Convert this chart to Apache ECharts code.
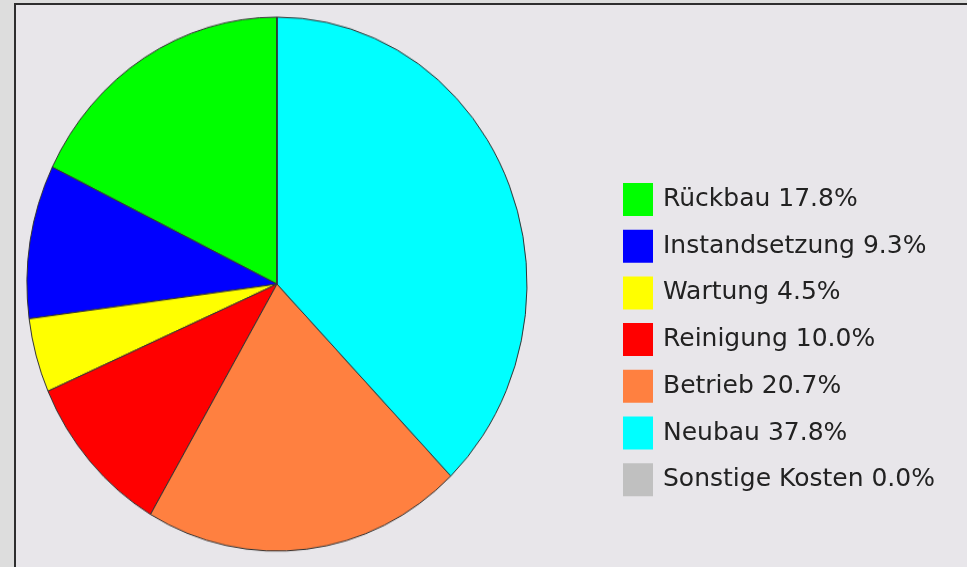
<!DOCTYPE html>
<html>
<head>
<meta charset="utf-8">
<script src="https://cdn.jsdelivr.net/npm/echarts@6/dist/echarts.min.js"></script>
<style>
  html, body { margin: 0; padding: 0; }
  body { width: 967px; height: 567px; background: #dddddd; position: relative; overflow: hidden; }
  #frame { position: absolute; left: 14px; top: 3px; width: 1000px; height: 600px;
           background: #e8e6ea; border: 2px solid #2e2e2e; box-sizing: border-box; }
  #pie { position: absolute; left: 0; top: 0; width: 560px; height: 540px;
         transform: scaleY(1.068); transform-origin: 0 0; }
  #legend { position: absolute; left: 0; top: 0; width: 967px; height: 567px; }
</style>
</head>
<body>
<div id="frame"></div>
<div id="pie"></div>
<div id="legend"></div>
<script>
// Cost shares in percent
const categories = ['Rückbau', 'Instandsetzung', 'Wartung', 'Reinigung', 'Betrieb', 'Neubau', 'Sonstige Kosten'];
const shares = [17.8, 9.3, 4.5, 10.0, 20.7, 37.8, 0.0];
const colors = ['#00ff00', '#0000ff', '#ffff00', '#ff0000', '#ff8040', '#00ffff', '#c0c0c0'];

const pieData = categories.map((name, i) => ({
  name: name,
  value: shares[i],
  itemStyle: { color: colors[i] }
}));

// Pie: slices run counter-clockwise from 12 o'clock
const pieChart = echarts.init(document.getElementById('pie'), null, { renderer: 'canvas' });
pieChart.setOption({
  animation: false,
  backgroundColor: 'transparent',
  series: [{
    type: 'pie',
    center: [277, 266],
    radius: 250,
    startAngle: 90,
    clockwise: false,
    minAngle: 0,
    label: { show: false },
    labelLine: { show: false },
    emphasis: { disabled: true },
    itemStyle: { borderColor: '#333333', borderWidth: 1 },
    data: pieData
  }]
});

// Legend with the share printed after each name
const legendChart = echarts.init(document.getElementById('legend'), null, { renderer: 'canvas' });
legendChart.setOption({
  animation: false,
  backgroundColor: 'transparent',
  legend: {
    orient: 'vertical',
    left: 623,
    top: 183,
    padding: 0,
    itemWidth: 30,
    itemHeight: 33,
    itemGap: 13.7,
    icon: 'rect',
    selectedMode: false,
    itemStyle: { borderWidth: 0, opacity: 1 },
    textStyle: {
      fontFamily: 'DejaVu Sans',
      fontSize: 25,
      color: '#222222',
      padding: [4, 0, 0, 5]
    },
    formatter: function (name) {
      const i = categories.indexOf(name);
      return name + ' ' + shares[i].toFixed(1) + '%';
    },
    data: categories
  },
  series: [{
    type: 'pie',
    radius: 0,
    silent: true,
    label: { show: false },
    labelLine: { show: false },
    data: pieData
  }]
});
</script>
</body>
</html>
